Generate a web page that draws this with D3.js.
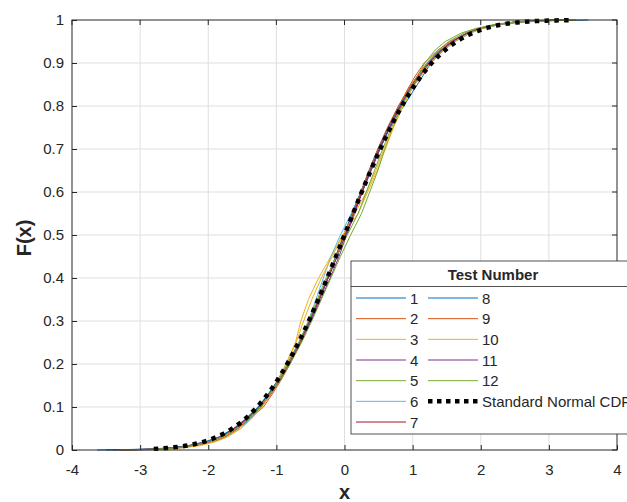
<!DOCTYPE html>
<html>
<head>
<meta charset="utf-8">
<script src="https://cdn.jsdelivr.net/npm/d3@7"></script>
<style>
body { margin: 0; background: #fff; overflow: hidden; }
svg { display: block; }
text { font-family: "Liberation Sans", Arial, sans-serif; fill: #262626; }
</style>
</head>
<body>
<div id="chart"></div>
<script>
// CDF levels at which each test's sample quantiles were read
const levels = [0, 0.002, 0.005, 0.01, 0.02, 0.03, 0.05, 0.07, 0.1, 0.13, 0.16, 0.2, 0.25, 0.3, 0.35, 0.4, 0.45, 0.5,
    0.55, 0.6, 0.65, 0.7, 0.75, 0.8, 0.84, 0.87, 0.9, 0.93, 0.95, 0.97, 0.98, 0.99, 0.995, 0.998, 1];

const test1 = [-3.63, -2.85, -2.50, -2.24, -1.98, -1.80, -1.58, -1.43, -1.23, -1.09, -0.96, -0.81, -0.66, -0.50, -0.37, -0.24, -0.11, 0.01, 0.13, 0.26, 0.39, 0.52, 0.67, 0.87, 1.03, 1.15, 1.27, 1.46, 1.62, 1.85, 2.02, 2.30, 2.60, 2.95, 3.58];
const test2 = [-3.30, -2.76, -2.45, -2.22, -1.96, -1.79, -1.57, -1.40, -1.19, -1.06, -0.94, -0.80, -0.64, -0.52, -0.38, -0.25, -0.13, -0.01, 0.12, 0.24, 0.37, 0.50, 0.64, 0.80, 0.93, 1.04, 1.17, 1.37, 1.55, 1.80, 1.97, 2.24, 2.50, 2.78, 3.20];
const test3 = [-3.10, -2.70, -2.47, -2.20, -1.94, -1.78, -1.57, -1.42, -1.24, -1.11, -0.99, -0.86, -0.72, -0.64, -0.53, -0.38, -0.20, -0.03, 0.20, 0.34, 0.48, 0.60, 0.72, 0.86, 0.99, 1.12, 1.26, 1.45, 1.61, 1.84, 2.00, 2.28, 2.55, 2.85, 3.30];
const test4 = [-3.40, -2.82, -2.55, -2.28, -2.01, -1.84, -1.62, -1.46, -1.26, -1.11, -0.97, -0.81, -0.64, -0.49, -0.35, -0.21, -0.08, 0.03, 0.15, 0.26, 0.38, 0.51, 0.66, 0.83, 0.97, 1.11, 1.25, 1.43, 1.59, 1.82, 1.98, 2.24, 2.48, 2.76, 3.10];
const test5 = [-3.20, -2.74, -2.48, -2.25, -1.99, -1.82, -1.60, -1.44, -1.24, -1.09, -0.95, -0.80, -0.63, -0.48, -0.34, -0.20, -0.06, 0.09, 0.25, 0.37, 0.49, 0.59, 0.71, 0.84, 0.96, 1.07, 1.18, 1.33, 1.48, 1.72, 1.92, 2.22, 2.50, 2.82, 3.35];
const test6 = [-3.00, -2.68, -2.42, -2.18, -1.92, -1.74, -1.53, -1.40, -1.22, -1.08, -0.96, -0.82, -0.66, -0.53, -0.42, -0.31, -0.20, -0.06, 0.10, 0.24, 0.37, 0.50, 0.65, 0.82, 0.98, 1.12, 1.26, 1.45, 1.62, 1.85, 2.00, 2.27, 2.54, 2.80, 3.20];
const test7 = [-3.30, -2.80, -2.53, -2.28, -2.00, -1.83, -1.61, -1.45, -1.26, -1.11, -0.98, -0.83, -0.66, -0.51, -0.37, -0.24, -0.11, 0.01, 0.13, 0.25, 0.38, 0.51, 0.66, 0.83, 0.97, 1.11, 1.25, 1.44, 1.60, 1.82, 1.98, 2.25, 2.50, 2.76, 3.10];
const test8 = [-3.50, -2.86, -2.56, -2.30, -2.03, -1.85, -1.63, -1.47, -1.27, -1.12, -0.99, -0.84, -0.67, -0.52, -0.38, -0.25, -0.13, -0.01, 0.11, 0.24, 0.36, 0.49, 0.64, 0.81, 0.95, 1.09, 1.23, 1.42, 1.58, 1.81, 1.98, 2.27, 2.55, 2.86, 3.30];
const test9 = [-3.10, -2.72, -2.44, -2.18, -1.90, -1.76, -1.56, -1.41, -1.22, -1.08, -0.96, -0.82, -0.65, -0.51, -0.38, -0.25, -0.12, 0.00, 0.12, 0.24, 0.36, 0.49, 0.63, 0.79, 0.94, 1.07, 1.21, 1.40, 1.57, 1.80, 1.97, 2.25, 2.52, 2.85, 3.40];
const test10 = [-2.90, -2.62, -2.38, -2.12, -1.88, -1.72, -1.52, -1.38, -1.21, -1.09, -0.98, -0.85, -0.71, -0.60, -0.48, -0.34, -0.18, -0.02, 0.15, 0.32, 0.46, 0.58, 0.71, 0.86, 0.99, 1.12, 1.26, 1.45, 1.61, 1.84, 2.01, 2.28, 2.54, 2.82, 3.20];
const test11 = [-3.20, -2.78, -2.50, -2.26, -1.99, -1.82, -1.60, -1.44, -1.25, -1.10, -0.97, -0.82, -0.66, -0.51, -0.37, -0.24, -0.11, 0.02, 0.14, 0.26, 0.39, 0.52, 0.66, 0.82, 0.96, 1.09, 1.23, 1.42, 1.58, 1.81, 1.97, 2.24, 2.48, 2.74, 3.20];
const test12 = [-3.30, -2.77, -2.49, -2.24, -1.98, -1.81, -1.59, -1.43, -1.24, -1.10, -0.97, -0.83, -0.67, -0.53, -0.40, -0.27, -0.12, 0.04, 0.20, 0.32, 0.44, 0.56, 0.69, 0.84, 0.97, 1.09, 1.21, 1.38, 1.53, 1.76, 1.94, 2.22, 2.49, 2.80, 3.40];

const tests = [test1, test2, test3, test4, test5, test6, test7, test8, test9, test10, test11, test12];
const testNames = ["1", "2", "3", "4", "5", "6", "7", "8", "9", "10", "11", "12"];
const testColors = ["#0072BD", "#D95319", "#EDB120", "#7E2F8E", "#77AC30", "#4DBEEE", "#A2142F",
    "#0072BD", "#D95319", "#EDB120", "#7E2F8E", "#77AC30"];

// standard normal CDF (table values)
const normX = [-2.8, -2.7, -2.6, -2.5, -2.4, -2.3, -2.2, -2.1, -2.0, -1.9, -1.8, -1.7, -1.6, -1.5, -1.4, -1.3, -1.2, -1.1, -1.0,
    -0.9, -0.8, -0.7, -0.6, -0.5, -0.4, -0.3, -0.2, -0.1, 0, 0.1, 0.2, 0.3, 0.4, 0.5, 0.6, 0.7, 0.8, 0.9, 1.0,
    1.1, 1.2, 1.3, 1.4, 1.5, 1.6, 1.7, 1.8, 1.9, 2.0, 2.1, 2.2, 2.3, 2.4, 2.5, 2.6, 2.7, 2.8, 2.9, 3.0, 3.1, 3.2, 3.3];
const normF = [0.0026, 0.0035, 0.0047, 0.0062, 0.0082, 0.0107, 0.0139, 0.0179, 0.0228, 0.0287, 0.0359, 0.0446, 0.0548, 0.0668,
    0.0808, 0.0968, 0.1151, 0.1357, 0.1587, 0.1841, 0.2119, 0.2420, 0.2743, 0.3085, 0.3446, 0.3821, 0.4207, 0.4602, 0.5,
    0.5398, 0.5793, 0.6179, 0.6554, 0.6915, 0.7257, 0.7580, 0.7881, 0.8159, 0.8413, 0.8643, 0.8849, 0.9032, 0.9192,
    0.9332, 0.9452, 0.9554, 0.9641, 0.9713, 0.9772, 0.9821, 0.9861, 0.9893, 0.9918, 0.9938, 0.9953, 0.9965, 0.9974,
    0.9981, 0.9987, 0.9990, 0.9993, 0.9995];

const xTicks = [-4, -3, -2, -1, 0, 1, 2, 3, 4];
const yTicks = [0, 0.1, 0.2, 0.3, 0.4, 0.5, 0.6, 0.7, 0.8, 0.9, 1];

const width = 627, height = 502;
const margin = {top: 20, right: 10, bottom: 52, left: 72};
const innerWidth = width - margin.left - margin.right;
const innerHeight = height - margin.top - margin.bottom;
const axisColor = "#262626";

const svg = d3.select("#chart")
    .append("svg")
    .attr("width", width)
    .attr("height", height);

const innerChart = svg.append("g")
    .attr("transform", `translate(${margin.left}, ${margin.top})`);

const xScale = d3.scaleLinear().domain([-4, 4]).range([0, innerWidth]);
const yScale = d3.scaleLinear().domain([0, 1]).range([innerHeight, 0]);

// grid
innerChart.append("g")
    .selectAll("line").data(xTicks.slice(1, -1))
    .join("line")
    .attr("x1", d => xScale(d)).attr("x2", d => xScale(d))
    .attr("y1", 0).attr("y2", innerHeight)
    .attr("stroke", "#dfdfdf");
innerChart.append("g")
    .selectAll("line").data(yTicks.slice(1, -1))
    .join("line")
    .attr("x1", 0).attr("x2", innerWidth)
    .attr("y1", d => yScale(d)).attr("y2", d => yScale(d))
    .attr("stroke", "#dfdfdf");

// empirical CDFs
const line = d3.line()
    .x(d => xScale(d[0]))
    .y(d => yScale(d[1]));

innerChart.append("g")
    .selectAll("path").data(tests)
    .join("path")
    .attr("d", d => line(d.map((v, i) => [v, levels[i]])))
    .attr("fill", "none")
    .attr("stroke", (d, i) => testColors[i])
    .attr("stroke-width", 1);

// standard normal CDF
innerChart.append("path")
    .attr("d", line.curve(d3.curveMonotoneX)(normX.map((v, i) => [v, normF[i]])))
    .attr("fill", "none")
    .attr("stroke", "#000")
    .attr("stroke-width", 4.5)
    .attr("stroke-dasharray", "4.5,5.3");

// axes with inward ticks
const styleAxis = g => {
    g.select(".domain").remove();
    g.selectAll(".tick line").attr("stroke", axisColor);
    g.selectAll(".tick text").attr("font-size", 15).attr("fill", axisColor);
};

innerChart.append("g")
    .attr("transform", `translate(0, ${innerHeight})`)
    .call(d3.axisBottom(xScale).tickValues(xTicks).tickSizeInner(-5).tickSizeOuter(0).tickPadding(14)
        .tickFormat(d => String(d)))
    .call(styleAxis);
innerChart.append("g")
    .call(d3.axisLeft(yScale).tickValues(yTicks).tickSizeInner(-5).tickSizeOuter(0).tickPadding(8)
        .tickFormat(d => String(d)))
    .call(styleAxis);

// ticks on the top and right edges
innerChart.append("g")
    .selectAll("line").data(xTicks)
    .join("line")
    .attr("x1", d => xScale(d)).attr("x2", d => xScale(d))
    .attr("y1", 0).attr("y2", 5)
    .attr("stroke", axisColor);
innerChart.append("g")
    .selectAll("line").data(yTicks)
    .join("line")
    .attr("x1", innerWidth - 5).attr("x2", innerWidth)
    .attr("y1", d => yScale(d)).attr("y2", d => yScale(d))
    .attr("stroke", axisColor);

innerChart.append("rect")
    .attr("width", innerWidth).attr("height", innerHeight)
    .attr("fill", "none")
    .attr("stroke", axisColor);

// axis labels
svg.append("text")
    .text("x")
    .attr("x", margin.left + xScale(0))
    .attr("y", 499)
    .attr("text-anchor", "middle")
    .attr("font-size", 20).attr("font-weight", "bold");
svg.append("text")
    .text("F(x)")
    .attr("transform", "translate(31, 238) rotate(-90)")
    .attr("text-anchor", "middle")
    .attr("font-size", 20).attr("font-weight", "bold");

// legend
const legendItems = testNames.map((n, i) => ({label: n, color: testColors[i], dashed: false}))
    .concat([{label: "Standard Normal CDF", color: "#000", dashed: true}]);

const legend = svg.append("g").attr("transform", "translate(351, 261)");
legend.append("rect")
    .attr("width", 284).attr("height", 173)
    .attr("fill", "#fff")
    .attr("stroke", axisColor).attr("stroke-width", 0.8);
legend.append("line")
    .attr("x1", 0).attr("x2", 284).attr("y1", 25.5).attr("y2", 25.5)
    .attr("stroke", axisColor).attr("stroke-width", 0.8);
legend.append("text")
    .text("Test Number")
    .attr("x", 142).attr("y", 19)
    .attr("text-anchor", "middle")
    .attr("font-size", 15).attr("font-weight", "bold");

const rowStep = 20.67;
const entry = legend.selectAll("g.entry").data(legendItems)
    .join("g")
    .attr("class", "entry")
    .attr("transform", (d, i) => {
        const col = i < 7 ? 0 : 1;
        const row = i < 7 ? i : i - 7;
        return `translate(${col === 0 ? 5 : 77}, ${37 + row * rowStep})`;
    });
entry.append("line")
    .attr("x1", 0).attr("x2", 50)
    .attr("stroke", d => d.color)
    .attr("stroke-width", d => d.dashed ? 4.5 : 1)
    .attr("stroke-dasharray", d => d.dashed ? "4.5,4.5" : null);
entry.append("text")
    .text(d => d.label)
    .attr("x", 54).attr("y", 5.5)
    .attr("font-size", 15);
</script>
</body>
</html>
